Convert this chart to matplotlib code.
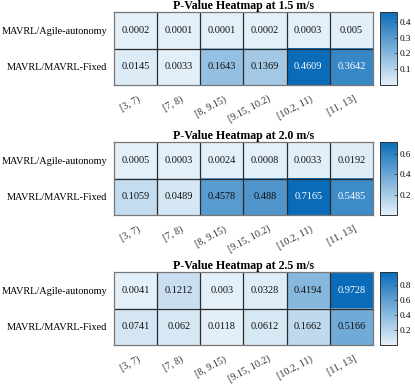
import matplotlib.pyplot as plt
import numpy as np
from matplotlib.colors import LinearSegmentedColormap

plt.rcParams['font.family'] = ['Liberation Serif', 'DejaVu Serif']

bins = ["[3, 7)", "[7, 8)", "[8, 9.15)", "[9.15, 10.2)", "[10.2, 11)", "[11, 13]"]
rows = ["MAVRL/Agile-autonomy", "MAVRL/MAVRL-Fixed"]
speeds = ["1.5", "2.0", "2.5"]

p_15 = [[0.0002, 0.0001, 0.0001, 0.0002, 0.0003, 0.005],
        [0.0145, 0.0033, 0.1643, 0.1369, 0.4609, 0.3642]]
p_20 = [[0.0005, 0.0003, 0.0024, 0.0008, 0.0033, 0.0192],
        [0.1059, 0.0489, 0.4578, 0.488, 0.7165, 0.5485]]
p_25 = [[0.0041, 0.1212, 0.003, 0.0328, 0.4194, 0.9728],
        [0.0741, 0.062, 0.0118, 0.0612, 0.1662, 0.5166]]
cb_ticks = [[0.1, 0.2, 0.3, 0.4], [0.2, 0.4, 0.6], [0.2, 0.4, 0.6, 0.8]]

cmap = LinearSegmentedColormap.from_list("blu", ["#e4f0f9", "#0a6cb8"])

fig = plt.figure(figsize=(4.15, 3.84), dpi=100)
bottoms = [0.7786, 0.440, 0.1016]
for k, (speed, data, ticks) in enumerate(zip(speeds, [p_15, p_20, p_25], cb_ticks)):
    data = np.array(data)
    ax = fig.add_axes([0.2747, bottoms[k], 0.624, 0.190])
    vmin, vmax = data.min(), data.max()
    im = ax.imshow(data, cmap=cmap, vmin=vmin, vmax=vmax, aspect="auto")
    nr, nc = data.shape
    for x in np.arange(0.5, nc - 0.5):
        ax.axvline(x, color="#2a2a2a", lw=0.9)
    ax.axhline(0.5, color="#2a2a2a", lw=0.9)
    for r in range(nr):
        for c in range(nc):
            frac = (data[r, c] - vmin) / (vmax - vmin)
            ax.text(c, r, f"{data[r, c]:g}", ha="center", va="center",
                    fontsize=7.4, color="white" if frac > 0.7 else "#111111")
    ax.set_xticks(np.arange(nc) + 0.05)
    ax.set_xticklabels(bins, rotation=28, ha="right", rotation_mode="anchor",
                       fontsize=7.2, color="#333333")
    ax.set_yticks(range(nr))
    ax.set_yticklabels(rows, fontsize=7.4)
    ax.tick_params(length=0, pad=5)
    ax.tick_params(axis="x", pad=6.5)
    for s in ax.spines.values():
        s.set_color("#777777")
        s.set_linewidth(0.9)
    ax.set_title(f"P-Value Heatmap at {speed} m/s", fontsize=8.6, fontweight="bold", pad=2)

    cax = fig.add_axes([0.9157, bottoms[k], 0.041, 0.190])
    cb = fig.colorbar(im, cax=cax)
    cb.set_ticks(ticks)
    cb.ax.tick_params(labelsize=6.6, length=2, width=0.5, direction="in", pad=2, color="#333333")
    cb.outline.set_edgecolor("#333333")
    cb.outline.set_linewidth(0.7)

fig.savefig("out.png", dpi=100)
